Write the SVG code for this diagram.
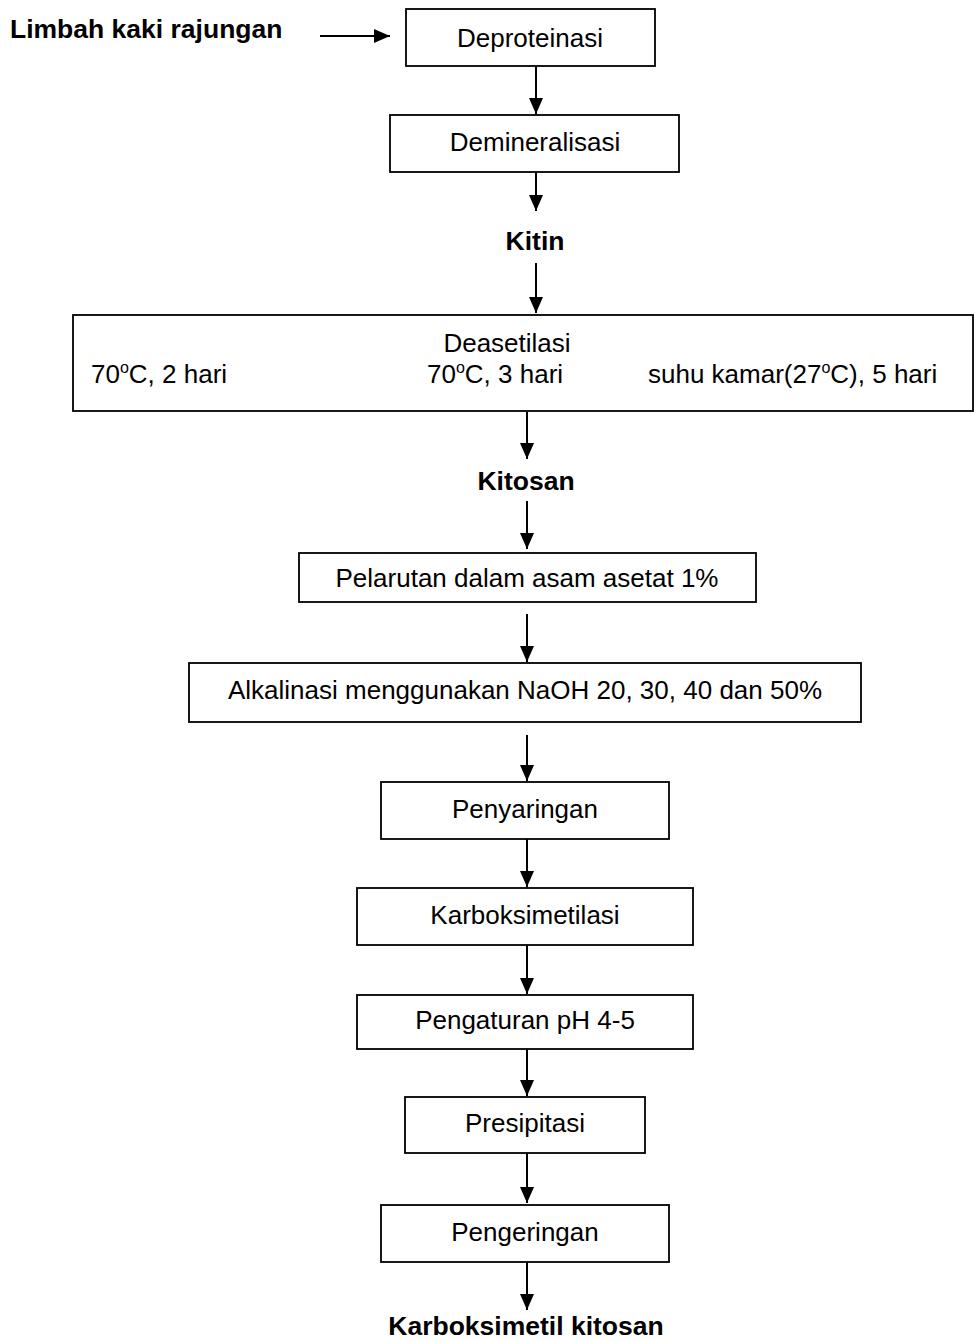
<svg xmlns="http://www.w3.org/2000/svg" width="974" height="1341" viewBox="0 0 974 1341">
<style>
.box{fill:#fff;stroke:#000;stroke-width:1.8}
.t{font-family:"Liberation Sans",Arial,sans-serif;font-size:26px;fill:#000}
.b{font-family:"Liberation Sans",Arial,sans-serif;font-size:26.5px;font-weight:bold;fill:#000}
.c{text-anchor:middle}
.ln{stroke:#000;stroke-width:2;fill:none;marker-end:url(#ah)}
</style>
<defs>
<marker id="ah" markerUnits="userSpaceOnUse" markerWidth="16" markerHeight="16" refX="16" refY="7" orient="auto">
<path d="M0,0 L16,7 L0,14 Z" fill="#000"/>
</marker>
</defs>
<rect width="974" height="1341" fill="#fff"/>
<g id="connectors">
<line class="ln" x1="320" y1="36" x2="390" y2="36"/>
<line class="ln" x1="536" y1="66" x2="536" y2="114"/>
<line class="ln" x1="536" y1="172" x2="536" y2="211"/>
<line class="ln" x1="536" y1="263" x2="536" y2="313"/>
<line class="ln" x1="527" y1="412" x2="527" y2="459"/>
<line class="ln" x1="527" y1="501" x2="527" y2="549"/>
<line class="ln" x1="527" y1="614" x2="527" y2="662"/>
<line class="ln" x1="527" y1="735" x2="527" y2="781"/>
<line class="ln" x1="527" y1="839" x2="527" y2="887"/>
<line class="ln" x1="527" y1="945" x2="527" y2="994"/>
<line class="ln" x1="527" y1="1049" x2="527" y2="1096"/>
<line class="ln" x1="527" y1="1153" x2="527" y2="1203"/>
<line class="ln" x1="527" y1="1262" x2="527" y2="1310"/>
</g>
<g id="n0"><text class="b" x="10" y="38">Limbah kaki rajungan</text></g>
<g id="n1"><rect class="box" x="406" y="9" width="249" height="57"/><text class="t c" x="530" y="47">Deproteinasi</text></g>
<g id="n2"><rect class="box" x="390" y="115" width="289" height="57"/><text class="t c" x="535" y="151">Demineralisasi</text></g>
<g id="n3"><text class="b c" x="535" y="250">Kitin</text></g>
<g id="n4"><rect class="box" x="73" y="315" width="900" height="96"/>
<text class="t c" x="507" y="352">Deasetilasi</text>
<text class="t" x="91" y="383">70<tspan font-size="16" dy="-10">o</tspan><tspan dy="10">C, 2 hari</tspan></text>
<text class="t" x="427" y="383">70<tspan font-size="16" dy="-10">o</tspan><tspan dy="10">C, 3 hari</tspan></text>
<text class="t" x="648" y="383">suhu kamar(27<tspan font-size="16" dy="-10">o</tspan><tspan dy="10">C), 5 hari</tspan></text>
</g>
<g id="n5"><text class="b c" x="526" y="490">Kitosan</text></g>
<g id="n6"><rect class="box" x="299" y="553" width="457" height="49"/><text class="t c" x="527" y="587">Pelarutan dalam asam asetat 1%</text></g>
<g id="n7"><rect class="box" x="189" y="663" width="672" height="59"/><text class="t c" x="525" y="699">Alkalinasi menggunakan NaOH 20, 30, 40 dan 50%</text></g>
<g id="n8"><rect class="box" x="381" y="782" width="288" height="57"/><text class="t c" x="525" y="818">Penyaringan</text></g>
<g id="n9"><rect class="box" x="357" y="888" width="336" height="57"/><text class="t c" x="525" y="924">Karboksimetilasi</text></g>
<g id="n10"><rect class="box" x="357" y="995" width="336" height="54"/><text class="t c" x="525" y="1029">Pengaturan pH 4-5</text></g>
<g id="n11"><rect class="box" x="405" y="1097" width="240" height="56"/><text class="t c" x="525" y="1132">Presipitasi</text></g>
<g id="n12"><rect class="box" x="381" y="1205" width="288" height="57"/><text class="t c" x="525" y="1241">Pengeringan</text></g>
<g id="n13"><text class="b c" x="526" y="1335">Karboksimetil kitosan</text></g>
</svg>
